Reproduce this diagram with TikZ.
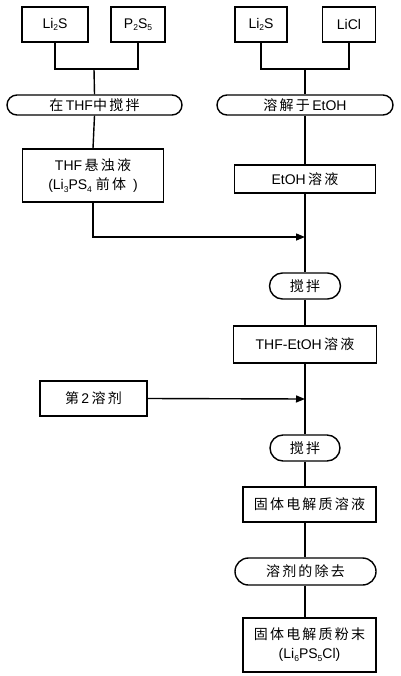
\documentclass[tikz,border=0pt]{standalone}
\usepackage{fontspec}
\setmainfont{Liberation Sans}
\newfontfamily\cjk[LetterSpace=16]{Noto Sans CJK SC}
\usetikzlibrary{shapes.misc,arrows.meta}
\newcommand{\lsub}[1]{\raisebox{-0.35ex}{\fontsize{8.5}{8.5}\selectfont #1}}
\newcommand{\zh}[1]{{\cjk #1}}
\begin{document}
\begin{tikzpicture}[x=1pt,y=-1pt,
  every node/.style={font=\fontsize{14}{19}\selectfont, inner sep=0pt},
  box/.style={draw, line width=1.4pt, rectangle, align=center},
  pill/.style={draw, line width=1.4pt, rounded rectangle, align=center},
  conn/.style={line width=1.4pt},
  arr/.style={line width=1.4pt, -{Triangle[length=9pt,width=7pt]}}]
\useasboundingbox (0,0) rectangle (400,676);
\fill[white] (0,0) rectangle (400,676);
% top left
\node[box, minimum width=66pt, minimum height=35pt] (a1) at (55,24.5) {Li\lsub{2}S};
\node[box, minimum width=54pt, minimum height=35pt] (a2) at (138,24.5) {P\lsub{2}S\lsub{5}};
\coordinate (m1) at (94,69);
\node[pill, minimum width=175pt, minimum height=20pt] (p1) at (94.5,105) {\zh{在}\,THF\zh{中搅拌}};
\node[box, minimum width=141pt, minimum height=53pt] (b1) at (93,175.5) {THF\,\zh{悬浊液}\\(Li\lsub{3}PS\lsub{4} \zh{前体}\enspace)};
% top right
\node[box, minimum width=52pt, minimum height=35pt] (c1) at (261,24.5) {Li\lsub{2}S};
\node[box, minimum width=53pt, minimum height=35pt] (c2) at (349,24.5) {LiCl};
\coordinate (m2) at (305,69);
\node[pill, minimum width=176pt, minimum height=20pt] (p2) at (305,105) {\zh{溶解于}\,EtOH};
\node[box, minimum width=141pt, minimum height=28pt] (b2) at (305,179) {EtOH\,\zh{溶液}};
\coordinate (j1) at (305,237);
\node[pill, minimum width=71pt, minimum height=26pt] (p3) at (305,286) {\zh{搅拌}};
\node[box, minimum width=143pt, minimum height=37pt] (b3) at (305,344.5) {THF-EtOH\,\zh{溶液}};
\node[box, minimum width=107pt, minimum height=35pt] (b4) at (93.5,398.5) {\zh{第}\,2\,\zh{溶剂}};
\coordinate (j2) at (305,399);
\node[pill, minimum width=70pt, minimum height=26pt] (p4) at (305,448) {\zh{搅拌}};
\node[box, minimum width=133pt, minimum height=35pt] (b5) at (309.5,504.5) {\zh{固体电解质溶液}};
\node[pill, minimum width=141pt, minimum height=27pt] (p5) at (305.5,571.5) {\zh{溶剂的除去}};
\node[box, minimum width=133pt, minimum height=54pt] (b6) at (309.5,645) {\zh{固体电解质粉末}\\(Li\lsub{6}PS\lsub{5}Cl)};
% connectors
\draw[conn] (a1.south) |- (m1) -| (a2.south);
\draw[conn] (m1) -- (p1.north);
\draw[conn] (p1.south) -- (b1.north);
\draw[conn] (c1.south) |- (m2) -| (c2.south);
\draw[conn] (m2) -- (p2.north);
\draw[conn] (p2.south) -- (b2.north);
\draw[conn] (b2.south) -- (j1) -- (p3.north);
\draw[arr] (b1.south) |- (j1);
\draw[conn] (p3.south) -- (b3.north);
\draw[conn] (b3.south) -- (j2) -- (p4.north);
\draw[arr] (b4.east) -- (j2);
\draw[conn] (p4.south) -- (p4.south |- b5.north);
\draw[conn] (p4.south |- b5.south) -- (p5.north -| p4.south);
\draw[conn] (p5.south -| p4.south) -- (p4.south |- b6.north);
\end{tikzpicture}
\end{document}
